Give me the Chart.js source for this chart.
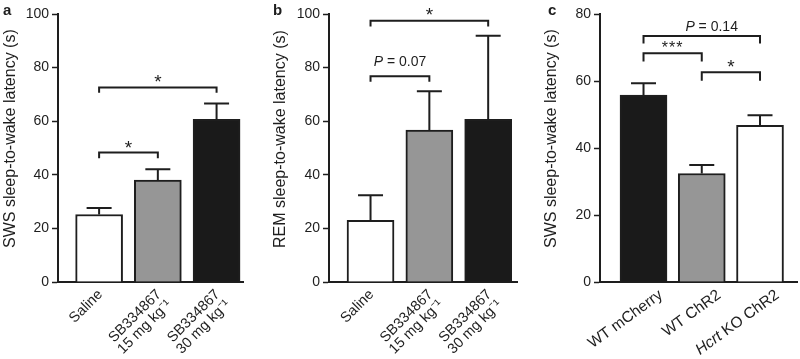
<!DOCTYPE html>
<html><head><meta charset="utf-8">
<script src="https://cdn.jsdelivr.net/npm/chart.js@4.4.1/dist/chart.umd.min.js"></script>
<style>
html,body{margin:0;padding:0;background:#fff;}
#wrap{position:relative;width:800px;height:359px;overflow:hidden;background:#fff;}
canvas{position:absolute;top:0;}
</style></head><body>
<div id="wrap">
<canvas id="ca" width="262" height="359" style="left:0px"></canvas>
<canvas id="cb" width="270" height="359" style="left:262px"></canvas>
<canvas id="cc" width="268" height="359" style="left:532px"></canvas>
</div>
<script>
// ---------- data ----------
const categoriesAB = [['Saline'], ['SB334867', '15 mg kg⁻¹'], ['SB334867', '30 mg kg⁻¹']];
const categoriesC = [['WT mCherry'], ['WT ChR2'], ['Hcrt KO ChR2']];
const swsLatencyA = [25.2, 38.0, 60.7];
const swsSemA = [2.4, 4.1, 5.9];
const remLatencyB = [23.0, 56.7, 60.7];
const remSemB = [9.4, 14.5, 31.2];
const swsLatencyC = [55.8, 32.4, 46.8];
const swsSemC = [3.5, 2.5, 3.0];
const yTicksAB = [0, 20, 40, 60, 80, 100];
const yTicksC = [0, 20, 40, 60, 80];
const yTitleA = 'SWS sleep-to-wake latency (s)';
const yTitleB = 'REM sleep-to-wake latency (s)';
const yTitleC = 'SWS sleep-to-wake latency (s)';
const bracketsA = [
  {from: 0, to: 1, y: 48.3, end: 46.2, text: '*', ty: 51.9},
  {from: 0, to: 2, y: 72.6, end: 70.6, text: '*', ty: 76.4}
];
const bracketsB = [
  {from: 0, to: 1, y: 76.8, end: 74.7, text: 'P = 0.07', ty: 82.5},
  {from: 0, to: 2, y: 97.5, end: 95.3, text: '*', ty: 101.5}
];
const bracketsC = [
  {from: 0, to: 2, y: 73.4, end: 71.2, text: 'P = 0.14', ty: 76.4, tx: 1.17},
  {from: 0, to: 1, y: 68.3, end: 65.8, text: '***', ty: 71.2},
  {from: 1, to: 2, y: 62.6, end: 60.1, text: '*', ty: 65.5}
];

// ---------- styles ----------
const FONT = '"Liberation Sans", Arial, Helvetica, sans-serif';
const INK = '#1e1e1e';
const WHITE = '#ffffff', GREY = '#969696', BLACK = '#1a1a1a';
const italicWords = ['Hcrt', 'P'];

function drawRich(ctx, text, x, y, align, size) {
  const words = text.split(' ');
  const segs = words.map((w, i) => ({t: w + (i < words.length - 1 ? ' ' : ''), it: italicWords.includes(w)}));
  let W = 0;
  segs.forEach(s => { ctx.font = (s.it ? 'italic ' : '') + size + 'px ' + FONT; s.w = ctx.measureText(s.t).width; W += s.w; });
  let cx = align === 'right' ? x - W : align === 'center' ? x - W / 2 : x;
  ctx.textAlign = 'left';
  segs.forEach(s => { ctx.font = (s.it ? 'italic ' : '') + size + 'px ' + FONT; ctx.fillText(s.t, cx, y); cx += s.w; });
}

const annot = {
  id: 'annot',
  afterDatasetsDraw(chart, args, o) {
    const xs = chart.scales.x, ys = chart.scales.y, ctx = chart.ctx;
    ctx.save();
    ctx.strokeStyle = INK; ctx.fillStyle = INK; ctx.lineWidth = 2; ctx.lineCap = 'butt'; ctx.lineJoin = 'miter';
    // error bars (upper only)
    o.values.forEach((v, i) => {
      const px = xs.getPixelForValue(i), y0 = ys.getPixelForValue(v), y1 = ys.getPixelForValue(v + o.sem[i]);
      ctx.beginPath();
      ctx.moveTo(px, y0); ctx.lineTo(px, y1);
      ctx.moveTo(px - 12.5, y1); ctx.lineTo(px + 12.5, y1);
      ctx.stroke();
    });
    // significance brackets
    o.brackets.forEach(b => {
      const x1 = xs.getPixelForValue(b.from), x2 = xs.getPixelForValue(b.to);
      const yb = ys.getPixelForValue(b.y), ye = ys.getPixelForValue(b.end);
      ctx.beginPath();
      ctx.moveTo(x1, ye); ctx.lineTo(x1, yb); ctx.lineTo(x2, yb); ctx.lineTo(x2, ye);
      ctx.stroke();
      const tx = xs.getPixelForValue(b.tx !== undefined ? b.tx : (b.from + b.to) / 2);
      const ty = ys.getPixelForValue(b.ty);
      ctx.textBaseline = 'alphabetic';
      if (b.text[0] === '*') {
        const sz = b.text.length > 1 ? o.starSmall : o.star;
        ctx.font = sz + 'px ' + FONT;
        ctx.textAlign = 'center';
        ctx.letterSpacing = b.text.length > 1 ? '1px' : '0px';
        ctx.fillText(b.text, tx, ty + 0.57 * sz);
        ctx.letterSpacing = '0px';
      } else {
        drawRich(ctx, b.text, tx, ty + 0.36 * 14, 'center', 14);
      }
    });
    // rotated category labels
    const axisY = xs.top;
    o.labels.forEach((lines, i) => {
      const px = xs.getPixelForValue(i);
      ctx.save();
      ctx.translate(px + o.labelDx, axisY + o.labelDy);
      ctx.rotate(-o.labelAngle * Math.PI / 180);
      ctx.textBaseline = 'alphabetic';
      lines.forEach((ln, k) => drawRich(ctx, ln, 0, k * o.labelLine, 'right', o.labelSize));
      ctx.restore();
    });
    // y-axis title
    ctx.save();
    ctx.translate(o.titleX, o.titleBottom);
    ctx.rotate(-Math.PI / 2);
    ctx.font = '16px ' + FONT;
    ctx.textAlign = 'left'; ctx.textBaseline = 'middle';
    ctx.fillText(o.yTitle, 0, 0);
    ctx.restore();
    // panel letter
    ctx.font = 'bold 15px ' + FONT;
    ctx.textAlign = 'left'; ctx.textBaseline = 'alphabetic';
    ctx.fillText(o.letter, o.letterX, 15);
    ctx.restore();
  }
};

function makeChart(id, cfg) {
  return new Chart(document.getElementById(id), {
    type: 'bar',
    data: {
      datasets: [{
        data: cfg.values.map((v, i) => ({x: i, y: v})),
        backgroundColor: cfg.colors,
        borderColor: INK,
        borderWidth: 2,
        borderSkipped: 'bottom',
        barThickness: 47
      }]
    },
    options: {
      responsive: false,
      animation: false,
      events: [],
      layout: {padding: {left: 0, right: cfg.padRight, top: 14, bottom: 0}},
      plugins: {
        legend: {display: false},
        tooltip: {enabled: false},
        annot: {
          values: cfg.values, sem: cfg.sem, brackets: cfg.brackets, labels: cfg.labels,
          labelDx: cfg.labelDx, labelDy: cfg.labelDy, labelAngle: cfg.labelAngle,
          labelSize: cfg.labelSize, labelLine: cfg.labelLine,
          yTitle: cfg.yTitle, titleX: cfg.titleX, titleBottom: 248,
          letter: cfg.letter, letterX: cfg.letterX,
          star: 19, starSmall: 16
        }
      },
      scales: {
        x: {
          type: 'linear', min: cfg.xMin, max: cfg.xMax, offset: false,
          grid: {display: false},
          border: {display: true, color: INK, width: 2},
          ticks: {display: false},
          afterBuildTicks: s => { s.ticks = cfg.labels.map((_, i) => ({value: i})); },
          afterFit: s => { s.height = 77; }
        },
        y: {
          min: 0, max: cfg.yMax,
          afterBuildTicks: s => { s.ticks = cfg.yTicks.map(v => ({value: v})); },
          ticks: {color: INK, font: {size: 14, family: FONT}, padding: 3},
          grid: {display: true, drawOnChartArea: false, drawTicks: true, tickLength: 6, tickColor: INK, tickWidth: 1.5},
          border: {display: true, color: INK, width: 2},
          title: {display: false, text: cfg.yTitle},
          afterFit: s => { s.width = cfg.yWidth; }
        }
      }
    },
    plugins: [annot]
  });
}

makeChart('ca', {
  values: swsLatencyA, sem: swsSemA, brackets: bracketsA, labels: categoriesAB,
  colors: [WHITE, GREY, BLACK], yTicks: yTicksAB, yMax: 100,
  yTitle: yTitleA, titleX: 11, yWidth: 58, padRight: 19,
  xMin: -0.7, xMax: 2.45, labelDx: 4, labelDy: 13, labelAngle: 45, labelSize: 14.5, labelLine: 14.5,
  letter: 'a', letterX: 3
});
makeChart('cb', {
  values: remLatencyB, sem: remSemB, brackets: bracketsB, labels: categoriesAB,
  colors: [WHITE, GREY, BLACK], yTicks: yTicksAB, yMax: 100,
  yTitle: yTitleB, titleX: 19, yWidth: 67, padRight: 15,
  xMin: -0.706, xMax: 2.49, labelDx: 4, labelDy: 13, labelAngle: 45, labelSize: 14.5, labelLine: 14.5,
  letter: 'b', letterX: 11
});
makeChart('cc', {
  values: swsLatencyC, sem: swsSemC, brackets: bracketsC, labels: categoriesC,
  colors: [BLACK, GREY, WHITE], yTicks: yTicksC, yMax: 80,
  yTitle: yTitleC, titleX: 20, yWidth: 68, padRight: 3,
  xMin: -0.747, xMax: 2.635, labelDx: 20, labelDy: 15, labelAngle: 36, labelSize: 15.5, labelLine: 15,
  letter: 'c', letterX: 16
});
</script>
</body></html>
